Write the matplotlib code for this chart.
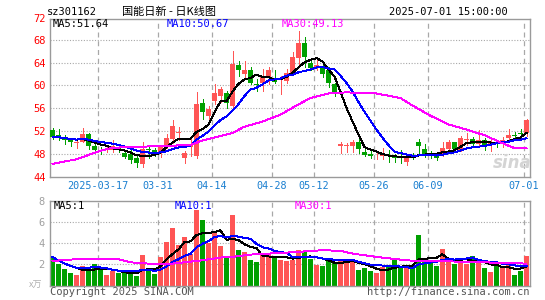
import matplotlib
matplotlib.use("Agg")
import matplotlib.pyplot as plt
import numpy as np
import pandas as pd

# daily candles 2025-03-05 .. 2025-07-01 (80 trading days)
opens = [52.2, 51.4, 50.65, 50.5, 50.0, 50.15, 51.55, 49.4, 48.8, 48.7,
         48.7, 49.15, 48.2, 48.0, 47.4, 46.3, 48.9, 48.8, 48.4, 49.6,
         50.6, 51.75, 47.3, 49.2, 47.6, 56.9, 54.7, 57.2, 58.1, 58.7,
         56.35, 63.5, 62.0, 62.7, 60.2, 60.45, 61.4, 61.1, 60.7, 60.7,
         62.2, 64.8, 67.35, 64.0, 63.0, 63.25, 62.7, 60.2, 49.5, 49.4,
         49.35, 50.05, 48.45, 48.0, 47.6, 47.7, 47.8, 47.7, 47.5, 46.7,
         47.9, 50.2, 48.9, 48.05, 47.9, 47.9, 48.9, 50.05, 48.75, 50.5,
         50.6, 49.8, 50.5, 49.8, 50.0, 49.8, 50.8, 51.4, 51.7, 51.7]
highs = [52.5, 52.4, 51.3, 50.8, 50.6, 52.5, 51.7, 49.7, 49.2, 49.45,
         50.4, 49.4, 48.5, 48.7, 48.0, 50.15, 49.5, 49.1, 49.6, 51.6,
         53.9, 52.7, 48.5, 50.7, 58.8, 57.6, 56.4, 60.2, 59.75, 59.05,
         66.1, 64.2, 64.2, 63.15, 61.1, 62.85, 63.15, 62.7, 61.7, 62.85,
         65.8, 69.6, 68.4, 64.6, 64.9, 63.85, 63.15, 60.35, 50.05, 50.0,
         50.5, 50.6, 49.05, 48.75, 48.5, 49.05, 48.75, 48.05, 48.75, 47.6,
         48.2, 50.6, 49.8, 48.5, 48.2, 50.05, 50.5, 50.2, 51.1, 51.7,
         51.0, 52.3, 50.8, 50.6, 50.5, 51.0, 52.4, 51.8, 52.4, 54.1]
lows = [50.6, 50.5, 49.7, 49.4, 49.0, 50.05, 48.9, 48.2, 47.95, 48.35,
        48.4, 48.35, 47.25, 46.4, 45.8, 45.75, 47.4, 47.6, 47.5, 49.0,
        50.0, 50.4, 46.5, 47.6, 47.4, 54.1, 54.0, 56.7, 57.1, 56.0,
        56.2, 61.6, 61.4, 60.2, 59.05, 59.05, 60.2, 60.5, 58.5, 60.5,
        62.0, 63.7, 63.3, 62.7, 62.7, 61.4, 59.75, 58.2, 48.2, 48.3,
        48.3, 48.2, 47.6, 47.3, 47.1, 47.1, 46.7, 46.7, 46.4, 46.1,
        47.1, 47.9, 47.5, 47.3, 46.9, 47.6, 48.6, 48.5, 48.5, 49.6,
        49.35, 49.35, 48.75, 48.6, 49.2, 49.2, 50.2, 50.8, 50.8, 51.2]
closes = [50.95, 51.0, 50.45, 50.2, 50.1, 51.55, 49.5, 48.7, 48.65, 48.85,
          49.4, 48.7, 47.5, 46.95, 46.5, 48.85, 48.7, 48.1, 49.4, 50.9,
          53.0, 51.9, 48.2, 49.6, 56.8, 55.4, 55.9, 58.75, 59.3, 57.0,
          63.7, 62.7, 62.7, 60.5, 60.0, 61.4, 62.7, 60.6, 60.8, 62.1,
          64.9, 67.4, 65.0, 63.0, 63.6, 62.0, 60.35, 58.9, 49.7, 49.55,
          50.05, 48.9, 47.9, 47.6, 47.7, 47.9, 47.6, 47.25, 47.3, 47.3,
          47.6, 49.5, 47.9, 47.9, 47.3, 49.05, 50.2, 48.9, 50.9, 50.6,
          49.8, 50.4, 49.35, 50.05, 49.9, 50.5, 51.4, 51.2, 51.55, 53.9]
volumes = [2.71, 2.02, 1.54, 1.17, 0.98, 1.83, 1.64, 2.02, 1.54, 0.98,
           1.35, 1.17, 1.29, 1.13, 0.88, 2.87, 1.64, 1.07, 2.68, 4.09,
           5.42, 3.81, 4.57, 2.96, 7.12, 6.17, 4.0, 5.04, 3.72, 2.65,
           6.65, 3.34, 3.15, 2.39, 2.2, 3.02, 3.02, 2.65, 2.39, 2.3,
           2.39, 3.34, 3.24, 2.49, 1.92, 1.83, 2.39, 2.2, 2.39, 2.3,
           2.39, 1.45, 1.64, 1.35, 1.17, 1.73, 1.73, 2.46, 1.73, 1.73,
           1.73, 4.76, 2.58, 2.2, 1.83, 3.43, 2.58, 2.02, 2.39, 2.02,
           2.77, 2.3, 1.64, 1.26, 1.83, 1.73, 2.2, 0.98, 1.35, 2.77]

# MA30 (needs history before the window)
ma30_idx = [0, 4, 8, 10, 13, 18, 23, 25, 27, 30, 32, 35, 38, 41, 43, 46,
            49, 51, 54, 58, 60, 63, 66, 69, 72, 75, 77, 79]
ma30_vals = [46.3, 47.1, 48.6, 49.1, 49.25, 49.4, 49.6, 50.4, 50.9, 51.7,
             52.8, 53.7, 54.9, 56.7, 57.8, 58.6, 58.8, 58.7, 58.6, 57.8,
             56.5, 54.7, 53.2, 52.3, 51.3, 49.9, 49.05, 49.13]
vol_ma30_idx = [0, 3, 8, 11, 13, 16, 19, 22, 25, 28, 30, 33, 37, 40, 45,
                48, 50, 54, 59, 62, 65, 70, 75, 79]
vol_ma30_vals = [2.33, 2.46, 2.55, 2.49, 2.2, 2.08, 2.02, 2.2, 2.39, 2.65,
                 2.71, 2.93, 3.05, 3.15, 3.34, 3.28, 3.02, 2.71, 2.39, 2.3,
                 2.3, 2.24, 2.14, 2.08]

tick_idx = [8, 18, 27, 37, 44, 54, 63, 79]
tick_labels = ["2025-03-17", "03-31", "04-14", "04-28", "05-12", "05-26",
               "06-09", "07-01"]
price_ticks = [44, 48, 52, 56, 60, 64, 68]
vol_ticks = [2, 4, 6, 8]

RED = "#ff5555"
GREEN = "#00a000"
GRID = "#a8a8a8"
MONO = "DejaVu Sans Mono"
CJK = ["Noto Sans CJK SC", "DejaVu Sans"]

W, H = 545, 300
LW = 0.7  # ~1 px


def fx(x):
    return x / W


def fy(y):
    return 1 - y / H


o = np.array(opens)
c = np.array(closes)
hi = np.array(highs)
lo = np.array(lows)
v = np.array(volumes)
n = len(o)
x = np.arange(n)
up = c >= o
cols = [RED if u else GREEN for u in up]

ma5 = pd.Series(c).rolling(5, min_periods=1).mean()
ma10 = pd.Series(c).rolling(10, min_periods=1).mean()
vma5 = pd.Series(v).rolling(5, min_periods=1).mean()
vma10 = pd.Series(v).rolling(10, min_periods=1).mean()

fig = plt.figure(figsize=(W / 100, H / 100), dpi=100)
fig.patch.set_facecolor("white")

ax = fig.add_axes([fx(50), fy(177), fx(480), 158 / H])
axv = fig.add_axes([fx(50), fy(285.7), fx(480), 85 / H])

x0 = -0.4167
for a in (ax, axv):
    a.set_xlim(x0, x0 + n)
    for s in a.spines.values():
        s.set_color("#9a9a9a")
        s.set_linewidth(1.0)
    for t in tick_idx:
        a.axvline(t + x0, color=GRID, lw=0.9, ls=(0, (4, 3)), zorder=0)
    a.tick_params(length=0)

# price panel
ax.set_ylim(44, 44 + 158 / 5.72)
for p in price_ticks[1:]:
    ax.axhline(p, color=GRID, lw=0.8, ls=(0, (1, 1.5)), zorder=0)
ax.set_yticks(price_ticks)
ax.set_yticklabels([str(p) for p in price_ticks], color="red",
                   fontsize=7.5, family=MONO)
ax.tick_params(axis="y", pad=3)
ax.set_xticks([t + x0 for t in tick_idx])
ax.set_xticklabels(tick_labels, color="#1a7fd0", fontsize=7.3, family=MONO)
ax.tick_params(axis="x", pad=3)

ax.vlines(x, lo, hi, colors=cols, lw=LW, zorder=2, antialiased=False)
body_h = np.maximum(np.abs(c - o), 0.14)
ax.bar(x, body_h, bottom=np.minimum(o, c), width=0.8, color=cols,
       linewidth=0, zorder=3)

ax.plot(x, ma5, color="black", lw=LW, zorder=4, antialiased=False)
ax.plot(x, ma10, color="#0000ff", lw=LW, zorder=4, antialiased=False)
ax.plot(ma30_idx, ma30_vals, color="#ff00ff", lw=LW, zorder=4,
        antialiased=False)

# volume panel
axv.set_ylim(0, 8)
for q in vol_ticks[:-1]:
    axv.axhline(q, color=GRID, lw=0.8, ls=(0, (1, 1.5)), zorder=0)
axv.set_yticks(vol_ticks)
axv.set_yticklabels([str(q) for q in vol_ticks], color="#a0a0a0",
                    fontsize=7.5, family=MONO)
axv.tick_params(axis="y", pad=4)
axv.set_xticks([])
axv.bar(x, v, width=0.84, color=cols, linewidth=0, zorder=2)
axv.plot(x, vma5, color="black", lw=LW, zorder=4, antialiased=False)
axv.plot(x, vma10, color="#0000ff", lw=LW, zorder=4, antialiased=False)
axv.plot(vol_ma30_idx, vol_ma30_vals, color="#ff00ff", lw=LW, zorder=4,
         antialiased=False)

# header texts
fig.text(fx(47), fy(12), "sz301162", fontsize=7.5, family=MONO,
         va="center", ha="left")
fig.text(fx(169), fy(12), "国能日新 - 日K线图", fontsize=8, family=CJK,
         va="center", ha="center")
fig.text(fx(508), fy(12), "2025-07-01 15:00:00", fontsize=7.5, family=MONO,
         va="center", ha="right")
fig.text(fx(46), fy(19), "72", color="red", fontsize=7.5, family=MONO,
         va="center", ha="right")

fig.text(fx(53), fy(24), "MA5:51.64", color="black", fontsize=7.5,
         family=MONO, va="center")
fig.text(fx(167), fy(24), "MA10:50.67", color="#0000ff", fontsize=7.5,
         family=MONO, va="center")
fig.text(fx(282), fy(24), "MA30:49.13", color="#ff00ff", fontsize=7.5,
         family=MONO, va="center")

fig.text(fx(54), fy(206), "MA5:1", color="black", fontsize=7.5,
         family=MONO, va="center")
fig.text(fx(175), fy(206), "MA10:1", color="#0000ff", fontsize=7.5,
         family=MONO, va="center")
fig.text(fx(295), fy(206), "MA30:1", color="#ff00ff", fontsize=7.5,
         family=MONO, va="center")

fig.text(fx(36), fy(285), "x万", color="#b0b0b0", fontsize=6.5,
         family=CJK, va="center", ha="center")
fig.text(fx(50), fy(292), "Copyright 2025 SINA.COM", color="#555555",
         fontsize=7.5, family=MONO, va="center")
fig.text(fx(529), fy(292), "http://finance.sina.com.cn", color="#555555",
         fontsize=7.5, family=MONO, va="center", ha="right")
fig.text(fx(512), fy(163), "sina", color="#d4d4d4", fontsize=12,
         style="italic", weight="bold", va="center", ha="center")

fig.savefig("out.png", dpi=100)
